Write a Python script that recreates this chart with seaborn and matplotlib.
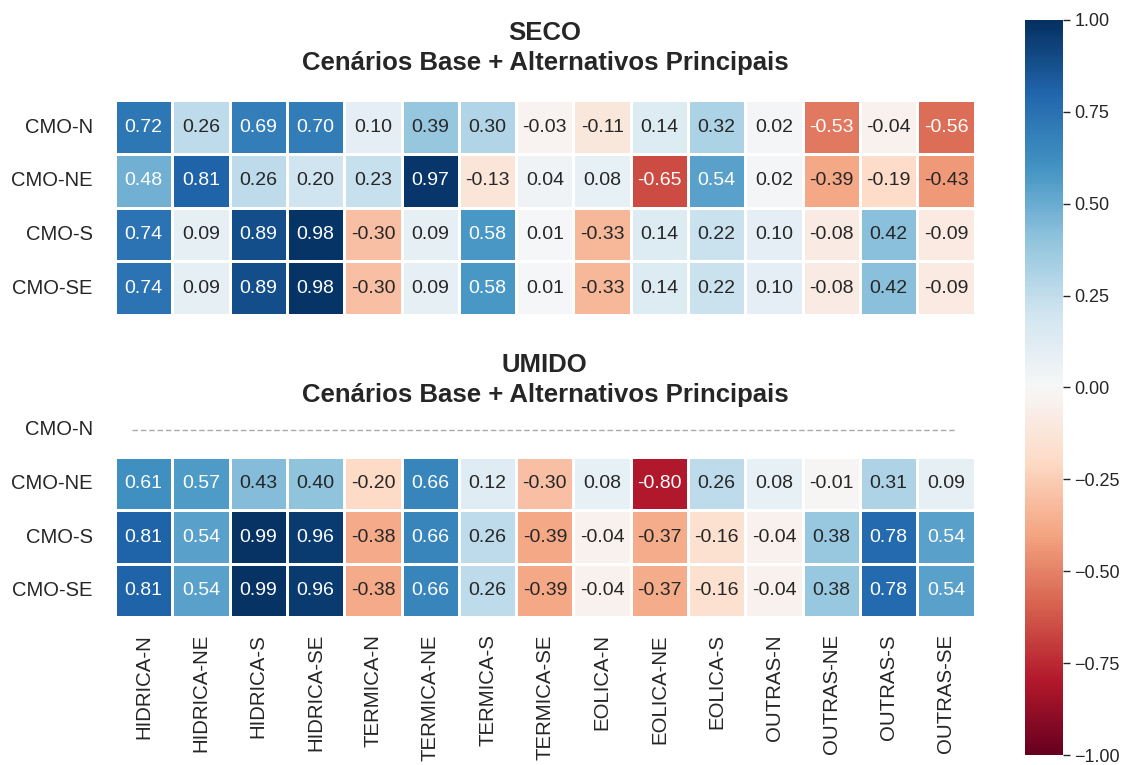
import numpy as np
import pandas as pd
import matplotlib
matplotlib.use("Agg")
import matplotlib.pyplot as plt
import seaborn as sns

# rows / columns
linhas = ["CMO-N", "CMO-NE", "CMO-S", "CMO-SE"]
colunas = ["HIDRICA-N", "HIDRICA-NE", "HIDRICA-S", "HIDRICA-SE",
           "TERMICA-N", "TERMICA-NE", "TERMICA-S", "TERMICA-SE",
           "EOLICA-N", "EOLICA-NE", "EOLICA-S",
           "OUTRAS-N", "OUTRAS-NE", "OUTRAS-S", "OUTRAS-SE"]

# correlations - SECO
seco_n = [0.72, 0.26, 0.69, 0.70, 0.10, 0.39, 0.30, -0.03, -0.11, 0.14, 0.32, 0.02, -0.53, -0.04, -0.56]
seco_ne = [0.48, 0.81, 0.26, 0.20, 0.23, 0.97, -0.13, 0.04, 0.08, -0.65, 0.54, 0.02, -0.39, -0.19, -0.43]
seco_s = [0.74, 0.09, 0.89, 0.98, -0.30, 0.09, 0.58, 0.01, -0.33, 0.14, 0.22, 0.10, -0.08, 0.42, -0.09]
seco_se = [0.74, 0.09, 0.89, 0.98, -0.30, 0.09, 0.58, 0.01, -0.33, 0.14, 0.22, 0.10, -0.08, 0.42, -0.09]

# correlations - UMIDO (CMO-N has no variation -> NaN)
umido_n = [np.nan] * 15
umido_ne = [0.61, 0.57, 0.43, 0.40, -0.20, 0.66, 0.12, -0.30, 0.08, -0.80, 0.26, 0.08, -0.01, 0.31, 0.09]
umido_s = [0.81, 0.54, 0.99, 0.96, -0.38, 0.66, 0.26, -0.39, -0.04, -0.37, -0.16, -0.04, 0.38, 0.78, 0.54]
umido_se = [0.81, 0.54, 0.99, 0.96, -0.38, 0.66, 0.26, -0.39, -0.04, -0.37, -0.16, -0.04, 0.38, 0.78, 0.54]

df_seco = pd.DataFrame([seco_n, seco_ne, seco_s, seco_se], index=linhas, columns=colunas)
df_umido = pd.DataFrame([umido_n, umido_ne, umido_s, umido_se], index=linhas, columns=colunas)

sns.set_theme(style="white")
plt.rcParams["font.family"] = ["Liberation Sans", "DejaVu Sans"]

fig = plt.figure(figsize=(11.28, 7.65), dpi=100)
ax1 = fig.add_axes([0.102, 0.588, 0.762, 0.281])
ax2 = fig.add_axes([0.102, 0.193, 0.762, 0.280])
cax = fig.add_axes([0.909, 0.013, 0.033, 0.961])

opts = dict(cmap="RdBu", vmin=-1, vmax=1, annot=True, fmt=".2f",
            linewidths=2, linecolor="white", annot_kws={"size": 14})

sns.heatmap(df_seco, ax=ax1, cbar=False, **opts)
sns.heatmap(df_umido, ax=ax2, cbar_ax=cax, **opts)

# empty CMO-N row in UMIDO shows as a faint dashed line
ax2.axhline(0.5, xmin=0.02, xmax=0.98, color="#aaaaaa", lw=1, ls=(0, (4, 2)))

ax1.set_title("SECO\nCenários Base + Alternativos Principais", fontsize=18.5,
              fontweight="bold", color="#262626", pad=22, linespacing=1.3)
ax2.set_title("UMIDO\nCenários Base + Alternativos Principais", fontsize=18.5,
              fontweight="bold", color="#262626", pad=1, linespacing=1.3)

ax1.set_xticks([])
ax1.tick_params(axis="y", labelsize=14.5, rotation=0, pad=10)
ax2.tick_params(axis="y", labelsize=14.5, rotation=0, pad=10)
ax2.tick_params(axis="x", labelsize=14.7, rotation=90, pad=6)
ax2.set_xticklabels(colunas, rotation=90)

cax.tick_params(labelsize=13, length=5, width=1, color="#262626")
cax.yaxis.set_ticks([-1, -0.75, -0.5, -0.25, 0, 0.25, 0.5, 0.75, 1])
cax.yaxis.set_ticklabels(["−1.00", "−0.75", "−0.50", "−0.25", "0.00", "0.25", "0.50", "0.75", "1.00"])

fig.savefig("out.png", dpi=100)
